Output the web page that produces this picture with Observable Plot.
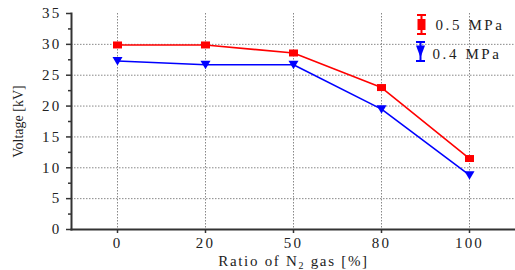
<!DOCTYPE html>
<html><head><meta charset="utf-8">
<script src="https://cdn.jsdelivr.net/npm/d3@7"></script>
<script src="https://cdn.jsdelivr.net/npm/@observablehq/plot@0.6"></script>
<style>body{margin:0;background:#fff} figure{margin:0}</style>
</head><body><figure id="chart"></figure>
<script>
const ratios = ["0", "20", "50", "80", "100"];
const v05 = [29.9, 29.9, 28.6, 23.0, 11.5];
const v04 = [27.3, 26.7, 26.7, 19.5, 8.8];
const seriesNames = ["0.5 MPa", "0.4 MPa"];
const seriesColors = ["#ff0000", "#0000ff"];
const yTicks = [0, 5, 10, 15, 20, 25, 30, 35];
const yMinor = [2.5, 7.5, 12.5, 17.5, 22.5, 27.5, 32.5];
const yGrid = [5, 10, 15, 20, 25, 30];
const xLabel = ["Ratio of N", "2", " gas [%]"];

const data = [
  ...ratios.map((r, i) => ({ratio: r, v: v05[i], series: seriesNames[0]})),
  ...ratios.map((r, i) => ({ratio: r, v: v04[i], series: seriesNames[1]}))
];

const FF = "Liberation Serif, Times New Roman, serif";
const errBar = {draw(ctx) { ctx.moveTo(0, -9.5); ctx.lineTo(0, 9.5); ctx.moveTo(-4.5, -9.5); ctx.lineTo(4.5, -9.5); ctx.moveTo(-4.5, 9.5); ctx.lineTo(4.5, 9.5); }};
const rectSym = {draw(ctx) { ctx.rect(-4, -5.5, 8, 11); }};
const triDown = {draw(ctx) { ctx.moveTo(-4.5, -6); ctx.lineTo(4.5, -6); ctx.lineTo(0, 6); ctx.closePath(); }};
const sqSym = {draw(ctx) { ctx.rect(-4.5, -3.5, 9, 7); }};
const triMark = {draw(ctx) { ctx.moveTo(-5, -4); ctx.lineTo(5, -4); ctx.lineTo(0, 4.5); ctx.closePath(); }};

const chart = Plot.plot({
  width: 515, height: 270,
  marginLeft: 71, marginRight: 0, marginTop: 13, marginBottom: 41,
  style: {fontFamily: FF, fontSize: "15px", color: "#222", background: "#fff"},
  x: {type: "point", domain: ratios, padding: 0.5},
  y: {domain: [0, 35]},
  color: {domain: seriesNames, range: seriesColors},
  marks: [
    Plot.gridY(yGrid, {stroke: "#888", strokeOpacity: 1, strokeDasharray: "1.5,1.5"}),
    Plot.gridX(ratios, {stroke: "#888", strokeOpacity: 1, strokeDasharray: "1.5,1.5"}),
    Plot.line(data, {x: "ratio", y: "v", stroke: "series", strokeWidth: 1.6}),
    Plot.dot(data.filter(d => d.series === seriesNames[0]), {x: "ratio", y: "v", symbol: sqSym, fill: "#ff0000", r: 4}),
    Plot.dot(data.filter(d => d.series === seriesNames[1]), {x: "ratio", y: "v", symbol: triMark, fill: "#0000ff", r: 4}),
    Plot.frame({anchor: "left", stroke: "#333", strokeWidth: 2}),
    Plot.frame({anchor: "bottom", stroke: "#333", strokeWidth: 2}),
    Plot.axisY(yTicks, {tickSize: 5, tickPadding: 5, stroke: "#333", strokeWidth: 1.5, fontFamily: FF, fontSize: 15,
      label: "Voltage [kV]", labelAnchor: "center", labelArrow: "none", labelOffset: 58}),
    Plot.axisY(yMinor, {tickSize: 3, text: null, label: null, stroke: "#333", strokeWidth: 1.5}),
    Plot.axisX(ratios, {tickSize: 4, tickPadding: 4, stroke: "#333", strokeWidth: 1.5, fontFamily: FF, fontSize: 15,
      label: xLabel.join(""), labelAnchor: "center", labelArrow: "none", labelOffset: 36}),
    Plot.dot([seriesNames[0]], {frameAnchor: "top-left", dx: 350, dy: 11, symbol: errBar, stroke: "#ff0000", strokeWidth: 2, fill: "none", r: 4}),
    Plot.dot([seriesNames[0]], {frameAnchor: "top-left", dx: 350, dy: 11, symbol: rectSym, fill: "#ff0000", r: 4}),
    Plot.dot([seriesNames[1]], {frameAnchor: "top-left", dx: 349, dy: 38, symbol: errBar, stroke: "#0000ff", strokeWidth: 2, fill: "none", r: 4}),
    Plot.dot([seriesNames[1]], {frameAnchor: "top-left", dx: 349, dy: 38, symbol: triDown, fill: "#0000ff", r: 4}),
    Plot.text([seriesNames[0]], {frameAnchor: "top-left", dx: 364, dy: 11.5, text: d => d, textAnchor: "start", lineAnchor: "middle", fontFamily: FF, fontSize: 15, fill: "#222"}),
    Plot.text([seriesNames[1]], {frameAnchor: "top-left", dx: 361, dy: 41, text: d => d, textAnchor: "start", lineAnchor: "middle", fontFamily: FF, fontSize: 15, fill: "#222"})
  ]
});
document.getElementById("chart").appendChild(chart);
chart.setAttribute("font-family", FF);
chart.setAttribute("font-size", "15");
chart.querySelectorAll("g").forEach(g => { if (g.hasAttribute("font-family")) g.setAttribute("font-family", FF); if (g.hasAttribute("font-size")) g.setAttribute("font-size", "15"); });
chart.querySelectorAll("text").forEach(t => { t.setAttribute("font-family", FF); t.setAttribute("font-size", "15"); t.setAttribute("letter-spacing", "2.2"); });
chart.querySelectorAll("g[aria-label='text'] text").forEach(t => { t.setAttribute("letter-spacing", "2.6"); });
chart.querySelectorAll("g[aria-label='y-axis label'] text").forEach(t => { t.setAttribute("letter-spacing", "0"); t.setAttribute("font-size", "14"); });
chart.querySelectorAll("g[aria-label='x-axis label'] text").forEach(t => {
  t.setAttribute("letter-spacing", "1.7");
  t.textContent = "";
  const ns = "http://www.w3.org/2000/svg";
  const a = document.createElementNS(ns, "tspan"); a.textContent = xLabel[0];
  const b = document.createElementNS(ns, "tspan"); b.textContent = xLabel[1]; b.setAttribute("dy", "3"); b.setAttribute("font-size", "10");
  const c = document.createElementNS(ns, "tspan"); c.textContent = xLabel[2]; c.setAttribute("dy", "-3");
  t.append(a, b, c);
});
</script>
</body></html>
